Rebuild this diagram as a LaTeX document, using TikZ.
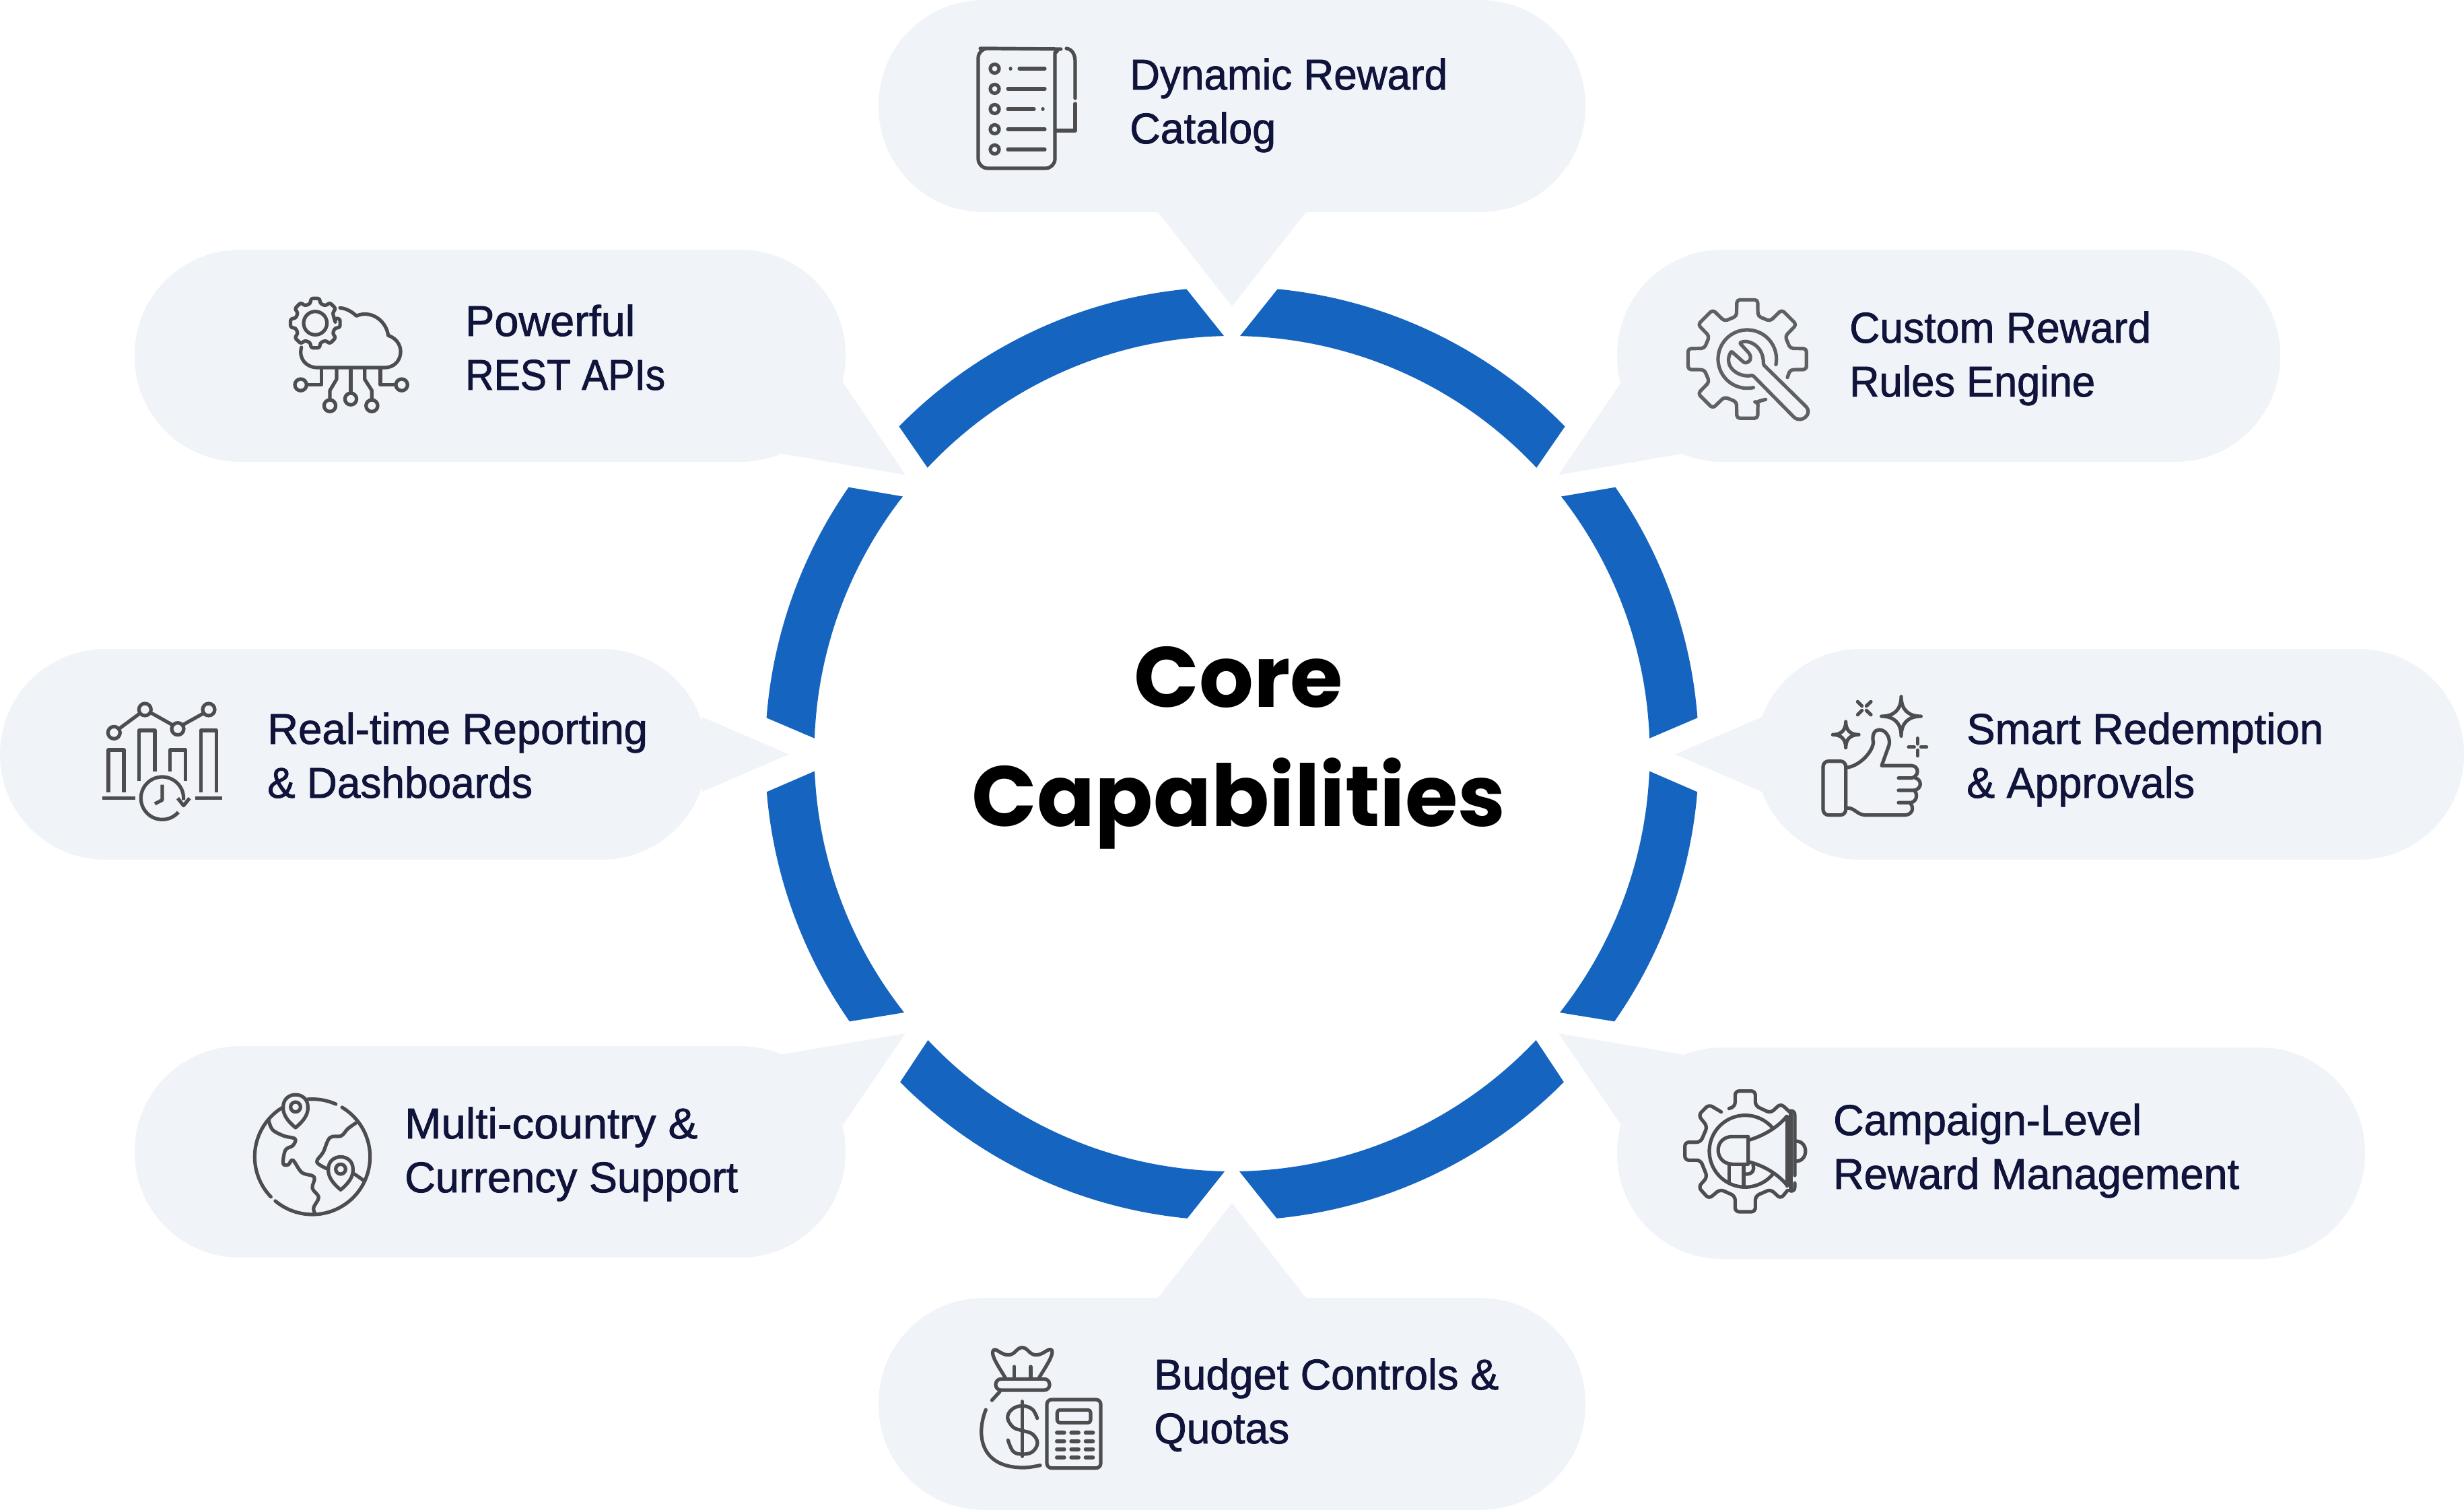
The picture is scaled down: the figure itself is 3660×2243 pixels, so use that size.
\documentclass[tikz,border=0pt]{standalone}
\usepackage{fontspec}
\newfontfamily\labelfont{Liberation Sans}[FakeBold=1.3]
\newfontfamily\titlefont{Poppins}[BoldFont=Poppins Bold]
\definecolor{bubblefill}{HTML}{F0F4F9}
\definecolor{ringblue}{HTML}{1565C0}
\definecolor{labelink}{HTML}{10133A}
\definecolor{iconink}{HTML}{4D4D4F}
\definecolor{iconlight}{HTML}{606062}
\tikzset{
  lbl/.style={anchor=base west,inner sep=0pt,text=labelink,font=\labelfont\fontsize{64}{64}\selectfont},
  ttl/.style={anchor=base,inner sep=0pt,text=black,font=\titlefont\bfseries\fontsize{127}{127}\selectfont},
  icon/.style={draw=iconink,line width=5.2pt,line cap=round,line join=round},
}
\newcommand\fitw[2]{\resizebox{#1pt}{\height}{#2}}
\newcommand\pill[4]{\fill[bubblefill,rounded corners=156pt] (#1,#2) rectangle (#3,#4);}
\newcommand\tail[6]{\fill[bubblefill] (#1,#2) -- (#3,#4) -- (#5,#6) -- cycle;}
\newcommand\arcplot[5]{plot[domain=#4:#5,samples=60] ({#1+#3*cos(\x)},{#2+#3*sin(\x)})}
\newcommand\seg[4]{\fill[ringblue] plot[domain=#1:#2,samples=70] ({1830+693.5*cos(\x)},{1119.5+693.5*sin(\x)}) -- plot[domain=#3:#4,samples=70] ({1830+620.5*cos(\x)},{1119.5+620.5*sin(\x)}) -- cycle;}
\newcommand\ringleft{%
  \seg{-135.5}{-95.6}{-91.1}{-136.8}
  \seg{-175.6}{-145.2}{-142.0}{-177.9}
  \seg{145}{175.3}{177.6}{141.7}
  \seg{95.5}{135.3}{136.7}{91}
}
\newcommand\teeth[7]{foreach \a in {#3} { -- ({#1+#4*cos(\a-#6)},{#2+#4*sin(\a-#6)}) -- ({#1+#5*cos(\a-#7)},{#2+#5*sin(\a-#7)}) -- ({#1+#5*cos(\a+#7)},{#2+#5*sin(\a+#7)}) -- ({#1+#4*cos(\a+#6)},{#2+#4*sin(\a+#6)}) }}
\newcommand\sparkle[3]{\draw[icon] ({#1},{#2-#3}) .. controls ({#1},{#2-.35*#3}) and ({#1+.35*#3},{#2}) .. ({#1+#3},{#2}) .. controls ({#1+.35*#3},{#2}) and ({#1},{#2+.35*#3}) .. ({#1},{#2+#3}) .. controls ({#1},{#2+.35*#3}) and ({#1-.35*#3},{#2}) .. ({#1-#3},{#2}) .. controls ({#1-.35*#3},{#2}) and ({#1},{#2-.35*#3}) .. cycle;}
\newcommand\mappin[2]{\draw[icon] ({#1},{#2+92}) .. controls ({#1-37},{#2+62}) and ({#1-57},{#2+32}) .. ({#1-55},{#2}) .. controls ({#1-55},{#2-73}) and ({#1+55},{#2-73}) .. ({#1+55},{#2}) .. controls ({#1+57},{#2+32}) and ({#1+37},{#2+62}) .. cycle; \draw[icon] (#1,#2) circle[radius=22];}
\begin{document}
\begin{tikzpicture}[x=1pt,y=-1pt]
\useasboundingbox (0,0) rectangle (3660,2243);
% bubbles
\pill{1305}{0}{2355}{315}
\tail{1719}{314}{1941}{314}{1830}{455}
\pill{200}{371}{1256}{686}
\tail{1251.5}{567}{1345}{705.5}{1161}{674}
\pill{2402}{371}{3387}{686}
\tail{2408.5}{567}{2315}{705.5}{2499}{674}
\pill{0}{964}{1050}{1277}
\tail{1043}{1065}{1172}{1120.5}{1043}{1176}
\pill{2607}{964}{3660}{1277}
\tail{2617}{1065}{2488}{1120.5}{2617}{1176}
\pill{200}{1554}{1256}{1868}
\tail{1251.5}{1672}{1345}{1535}{1161}{1566}
\pill{2402}{1556}{3513}{1870}
\tail{2408.5}{1672}{2315}{1535}{2499}{1566}
\pill{1305}{1928}{2355}{2243}
\tail{1719}{1929}{1941}{1929}{1830}{1787}
% ring
\ringleft
\begin{scope}[xshift=3660pt,xscale=-1]\ringleft\end{scope}
% title
\node[ttl] (core) at (1840,1050) {Core};
\node[ttl] (capab) at (1840,1227) {Capabilities};
% labels
\node[lbl] (t1a) at (1678,133) {\fitw{472}{Dynamic Reward}};
\node[lbl] (t1b) at (1678,213) {\fitw{217}{Catalog}};
\node[lbl] (t2a) at (691,499) {\fitw{252}{Powerful}};
\node[lbl] (t2b) at (691,579) {\fitw{297}{REST APIs}};
\node[lbl] (t3a) at (2747,509) {\fitw{448}{Custom Reward}};
\node[lbl] (t3b) at (2747,589) {\fitw{365}{Rules Engine}};
\node[lbl] (t4a) at (397,1105) {\fitw{565}{Real-time Reporting}};
\node[lbl] (t4b) at (397,1185) {\fitw{394}{\& Dashboards}};
\node[lbl] (t5a) at (2921,1105) {\fitw{530}{Smart Redemption}};
\node[lbl] (t5b) at (2921,1185) {\fitw{339}{\& Approvals}};
\node[lbl] (t6a) at (601,1691) {\fitw{435}{Multi-country \&}};
\node[lbl] (t6b) at (601,1771) {\fitw{495}{Currency Support}};
\node[lbl] (t7a) at (2723,1686) {\fitw{458}{Campaign-Level}};
\node[lbl] (t7b) at (2723,1766) {\fitw{603}{Reward Management}};
\node[lbl] (t8a) at (1714,2064) {\fitw{512}{Budget Controls \&}};
\node[lbl] (t8b) at (1714,2144) {\fitw{201}{Quotas}};
% icon: catalog
\begin{scope}
\draw[icon,rounded corners=14pt] (1567,250) -- (1567,92) .. controls (1567,80) and (1574,73) .. (1584,73) -- (1470,72) -- (1453,72) -- (1453,250) -- cycle;
\draw[icon] (1584,72) .. controls (1592,73) and (1597,80) .. (1597,92) -- (1597,146);
\draw[icon] (1597,154) -- (1597,194) -- (1567,194);
\foreach \yy in {102,132,162,192,222} \draw[icon] (1477.5,\yy) circle[radius=6.5];
\draw[icon] (1501,102) -- (1501.1,102) (1514,102) -- (1552,102);
\draw[icon] (1497,132) -- (1552,132);
\draw[icon] (1497,162) -- (1536,162) (1549,162) -- (1549.1,162);
\draw[icon] (1497,192) -- (1552,192);
\draw[icon] (1497,222) -- (1552,222);
\end{scope}
% icon: cloud gear
\begin{scope}[shift={(400,420)},x=.33333pt,y=-.33333pt]
\draw[icon,rounded corners=3pt] (295,180) \teeth{205}{180}{0,45,90,135,180,225,270,315}{90}{112}{14}{10} -- cycle;
\draw[icon] (205,180) circle[radius=52];
\draw[icon] (315,112) .. controls (345,115) and (370,130) .. (388,148) .. controls (450,120) and (520,165) .. (530,235) .. controls (575,250) and (590,290) .. (584,320) .. controls (578,355) and (550,378) .. (515,378) -- (215,378) .. controls (165,378) and (130,340) .. (143,288);
\draw[icon] (232,385) -- (232,455) -- (172,455);
\draw[icon] (300,385) -- (300,430) -- (270,480) -- (270,520);
\draw[icon] (363,385) -- (363,490);
\draw[icon] (425,385) -- (425,430) -- (457,480) -- (457,520);
\draw[icon] (495,385) -- (495,455) -- (560,455);
\foreach \cx/\cy in {140/455,270/548,363/518,457/548,590/455} \draw[icon] (\cx,\cy) circle[radius=26];
\end{scope}
% icon: wrench gear
\begin{scope}[shift={(2480,420)},x=.33333pt,y=-.33333pt,icon/.append style={draw=iconlight}]
\draw[icon,rounded corners=4.5pt] (428,520) -- (386,531) \teeth{346}{340}{90,135,180,225,270,315,360}{197}{268}{14}{10} -- (525,422);
\draw[icon] \arcplot{346}{340}{130}{11}{-282};
\draw[icon,rounded corners=1.5pt] (312,268) .. controls (350,250) and (420,280) .. (418,365) -- (608,552) .. controls (635,585) and (590,625) .. (555,600) -- (370,412) .. controls (310,425) and (235,375) .. (275,305) -- (325,350) .. controls (345,365) and (370,345) .. (355,315) -- cycle;
\end{scope}
% icon: reporting
\begin{scope}[shift={(130,1020)},x=.33333pt,y=-.33333pt]
\draw[icon,line cap=butt] (93,470) -- (93,282) -- (162,282) -- (162,470);
\draw[icon,line cap=butt] (230,420) -- (230,195) -- (300,195) -- (300,378);
\draw[icon,line cap=butt] (368,378) -- (368,282) -- (437,282) -- (437,420);
\draw[icon,line cap=butt] (505,470) -- (505,195) -- (574,195) -- (574,470);
\draw[icon,line cap=butt] (67,497) -- (213,497) (480,497) -- (600,497);
\foreach \cx/\cy in {118/205,256/102,402/188,540/102} \draw[icon] (\cx,\cy) circle[radius=27];
\draw[icon] (140,188) -- (232,120) (280,115) -- (378,170) (425,170) -- (518,118);
\draw[icon,line cap=butt] \arcplot{333}{497}{95}{41}{365};
\draw[icon,line cap=butt] (402,497) -- (428,530) -- (455,497);
\draw[icon,line cap=butt] (333,437) -- (333,505) -- (300,522);
\end{scope}
% icon: thumb up
\begin{scope}[shift={(2680,1010)},x=.33333pt,y=-.33333pt]
\draw[icon,rounded corners=8pt] (84,362) rectangle (185,602);
\draw[icon] (190,390) .. controls (240,385) and (300,330) .. (308,280) .. controls (300,240) and (315,222) .. (335,222) .. controls (365,222) and (385,260) .. (378,290) -- (345,382) -- (480,382) .. controls (510,385) and (515,425) .. (480,437) -- (420,437);
\draw[icon] (495,437) .. controls (525,445) and (525,485) .. (490,492) -- (420,492);
\draw[icon] (490,492) .. controls (505,505) and (505,540) .. (475,547) -- (420,547);
\draw[icon] (470,547) .. controls (490,565) and (485,600) .. (450,602) -- (270,602) .. controls (235,600) and (225,570) .. (190,570);
\sparkle{432}{162}{88}
\sparkle{185}{244}{58}
\draw[icon] (238,97) -- (257,116) (297,97) -- (277,116) (238,155) -- (257,136) (297,155) -- (277,136);
\draw[icon] (505,260) -- (505,285) (505,313) -- (505,338) (465,299) -- (490,299) (520,299) -- (545,299);
\end{scope}
% icon: globe
\begin{scope}[shift={(350,1600)},x=.33333pt,y=-.33333pt]
\draw[icon] \arcplot{342}{355}{257}{-95}{-66};
\draw[icon] \arcplot{342}{355}{257}{-59}{130};
\draw[icon] \arcplot{342}{355}{257}{136}{238};
\mappin{267}{133}
\mappin{468}{410}
\draw[icon] plot[smooth,tension=.6] coordinates {(148,195) (165,235) (215,262) (265,275) (255,305) (222,325) (212,385) (235,390) (255,370) (295,425) (350,445) (342,495) (370,535) (348,580) (352,605)};
\draw[icon] plot[smooth,tension=.6] coordinates {(535,205) (500,230) (470,262) (420,270) (390,335) (362,378) (405,407)};
\draw[icon] (530,432) -- (570,460);
\end{scope}
% icon: campaign gear
\begin{scope}[shift={(2470,1600)},x=.33333pt,y=-.33333pt]
\draw[icon,rounded corners=6pt] (295,140) -- (322,130) -- (322,62) -- (412,62) -- (412,128) -- (480,160) -- (525,118) -- (565,155);
\draw[icon] (592,285) .. controls (650,285) and (650,375) .. (592,375);
\draw[icon,rounded corners=6pt] (555,505) -- (525,542) -- (480,500) -- (412,530) -- (412,600) -- (322,600) -- (322,530) -- (255,500) -- (205,542) -- (158,490) -- (198,445) -- (168,370) -- (98,370) -- (98,290) -- (168,290) -- (198,220) -- (158,170) -- (205,122) -- (260,155);
\draw[icon] (553,175) -- (553,485);
\draw[icon] (570,165) -- (570,495);
\draw[icon] (570,150) .. controls (582,150) and (588,158) .. (588,170) -- (588,438);
\draw[icon] (588,472) -- (588,490) .. controls (588,505) and (575,512) .. (565,505);
\draw[icon] (385,280) .. controls (450,260) and (510,225) .. (552,175);
\draw[icon] (385,378) .. controls (450,395) and (510,430) .. (552,480);
\draw[icon] \arcplot{367}{330}{160}{-40}{-319};
\draw[icon] (380,265) -- (380,388) -- (310,388) .. controls (225,385) and (225,265) .. (310,265) -- cycle;
\draw[icon] (295,395) -- (295,465) (360,395) -- (360,485);
\draw[icon] (368,432) .. controls (400,435) and (410,410) .. (402,392);
\end{scope}
% icon: budget bag
\begin{scope}[shift={(1430,1980)},x=.33333pt,y=-.33333pt]
\draw[icon] (190,200) .. controls (160,150) and (125,100) .. (135,80) .. controls (145,60) and (170,100) .. (205,98) .. controls (235,96) and (240,65) .. (265,65) .. controls (290,65) and (295,96) .. (325,98) .. controls (360,100) and (385,60) .. (398,78) .. controls (405,100) and (370,150) .. (340,200);
\draw[icon] (230,150) -- (230,200) (303,150) -- (303,200);
\draw[icon,rounded corners=8pt] (147,205) rectangle (387,255);
\draw[icon] (165,262) -- (130,300);
\draw[icon] (103,342) .. controls (60,450) and (75,600) .. (270,600) .. controls (295,600) and (320,595) .. (345,590);
\draw[icon] plot[smooth,tension=.65] coordinates {(332,380) (310,340) (265,325) (220,340) (200,378) (225,420) (265,435) (310,450) (333,490) (310,530) (265,540) (225,528) (202,478)};
\draw[icon] (265,305) -- (265,550);
\draw[icon,rounded corners=7pt] (375,297) rectangle (615,602);
\draw[icon,rounded corners=4pt] (421,343) rectangle (570,400);
\foreach \yy in {445,482,518,555} \foreach \xx in {420,484,548} \draw[icon,line width=6pt] (\xx,\yy) -- (\xx+32,\yy);
\end{scope}
\end{tikzpicture}
\end{document}
